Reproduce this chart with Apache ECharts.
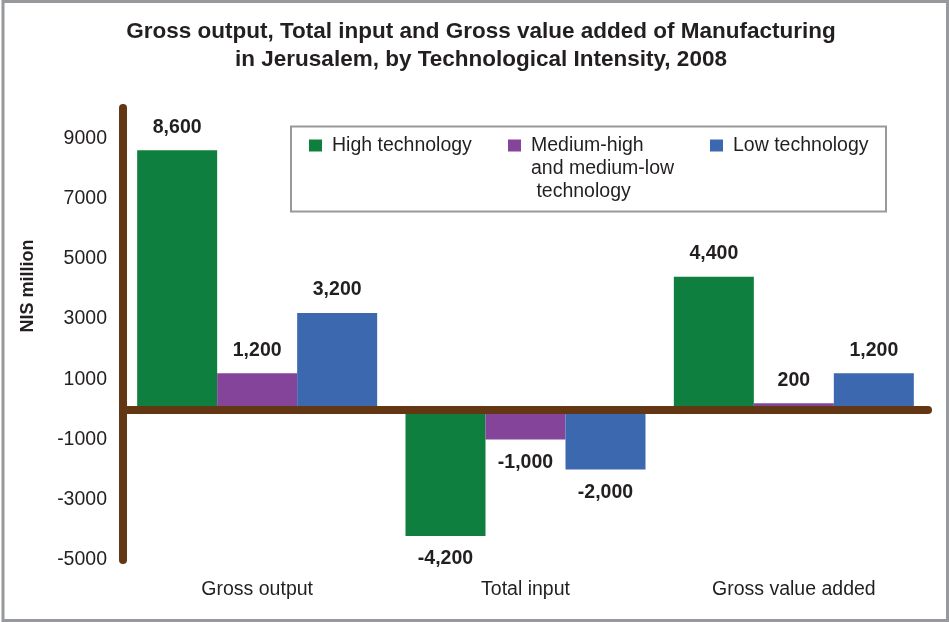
<!DOCTYPE html>
<html>
<head>
<meta charset="utf-8">
<script src="https://cdn.jsdelivr.net/npm/echarts@6/dist/echarts.min.js"></script>
<style>
  html, body { margin: 0; padding: 0; background: #ffffff; }
  #chart { width: 949px; height: 622px; }
</style>
</head>
<body>
<div id="chart"></div>
<script>
// Manufacturing in Jerusalem, 2008 (NIS million)
var categories = ['Gross output', 'Total input', 'Gross value added'];
var seriesNames = ['High technology', 'Medium-high\nand medium-low\n technology', 'Low technology'];
var highTech = [8600, -4200, 4400];
var mediumTech = [1200, -1000, 200];
var lowTech = [3200, -2000, 1200];
var yMin = -5000, yMax = 10000, yStep = 1000;

var colors = ['#0e7f3e', '#84449a', '#3c68b0'];
var ink = '#231f20';
var brown = '#633614';
var fontFamily = 'Liberation Sans, Arial, sans-serif';

function fmt(v) {
  return v.toLocaleString('en-US');
}

// Labels sit above positive bars and below negative ones
function toData(values) {
  return values.map(function (v) {
    return { value: v, label: { position: v < 0 ? 'bottom' : 'top' } };
  });
}

function barSeries(name, values) {
  return {
    name: name,
    type: 'bar',
    xAxisIndex: 0,
    barWidth: 80,
    barGap: '0%',
    data: toData(values),
    label: {
      show: true,
      distance: 13,
      color: ink,
      fontFamily: fontFamily,
      fontWeight: 'bold',
      fontSize: 19.5,
      formatter: function (p) { return fmt(p.value); }
    }
  };
}

// Legend swatch: a 13x12 square; for a multi-line entry the icon box is
// stretched downwards (empty move-to) so that the text, which is centred on
// the icon box, starts with its first line beside the square
var LINE_H = 23;
function swatch(lines) {
  var h = 12 + (lines - 1) * LINE_H;
  return {
    icon: lines > 1 ? 'path://M0,0H13V12H0Z M0,' + h : 'rect',
    height: h
  };
}

// One legend per series so each entry can be placed on its own
function legendAt(left, top, name) {
  var lines = name.split('\n').length;
  var sw = swatch(lines);
  return {
    left: left,
    top: top,
    padding: 0,
    itemWidth: 13,
    itemHeight: sw.height,
    symbolKeepAspect: false,
    selectedMode: false,
    data: [{ name: name, icon: sw.icon }],
    textStyle: {
      color: ink,
      fontFamily: fontFamily,
      fontSize: 19.5,
      lineHeight: LINE_H,
      padding: [0, 0, 0, 5]
    }
  };
}

var chart = echarts.init(document.getElementById('chart'), null, { renderer: 'canvas' });

chart.setOption({
  animation: false,
  color: colors,
  title: {
    text: 'Gross output, Total input and Gross value added of Manufacturing\nin Jerusalem, by Technological Intensity, 2008',
    left: 481,
    textAlign: 'center',
    top: 18,
    padding: 0,
    textStyle: {
      color: ink,
      fontFamily: fontFamily,
      fontWeight: 'bold',
      fontSize: 22.5,
      lineHeight: 28
    }
  },
  legend: [
    legendAt(309, 134, seriesNames[0]),
    legendAt(508, 134, seriesNames[1]),
    legendAt(710, 134, seriesNames[2])
  ],
  graphic: [
    {
      type: 'rect',
      z: -1,
      shape: { x: 3, y: 1.5, width: 944.5, height: 619 },
      style: { fill: null, stroke: '#98999c', lineWidth: 3 }
    },
    {
      type: 'rect',
      z: -1,
      shape: { x: 291, y: 126.5, width: 595, height: 85 },
      style: { fill: '#ffffff', stroke: '#98999c', lineWidth: 2 }
    }
  ],
  grid: { left: 123, right: 21, top: 108, bottom: 62, containLabel: false },
  xAxis: [
    {
      type: 'category',
      data: categories,
      position: 'bottom',
      axisLine: { show: false, onZero: false },
      axisTick: { show: false },
      axisLabel: {
        margin: 20,
        color: ink,
        fontFamily: fontFamily,
        fontSize: 19.5
      }
    },
    {
      type: 'category',
      data: categories,
      z: 5,
      axisLine: {
        show: true,
        onZero: true,
        lineStyle: { color: brown, width: 8, cap: 'round' }
      },
      axisTick: { show: false },
      axisLabel: { show: false }
    }
  ],
  yAxis: {
    type: 'value',
    min: yMin,
    max: yMax,
    interval: yStep,
    name: 'NIS million',
    nameLocation: 'middle',
    nameGap: 86,
    nameTextStyle: {
      color: ink,
      fontFamily: fontFamily,
      fontWeight: 'bold',
      fontSize: 18,
      padding: [0, 0, 0, 96]
    },
    z: 5,
    axisLine: { show: true, lineStyle: { color: brown, width: 8, cap: 'round' } },
    axisTick: { show: false },
    splitLine: { show: false },
    axisLabel: {
      margin: 16,
      color: ink,
      fontFamily: fontFamily,
      fontSize: 19.5,
      formatter: function (v) {
        return (Math.round(v / 1000) % 2 !== 0) ? String(v) : '';
      }
    }
  },
  series: [
    barSeries(seriesNames[0], highTech),
    barSeries(seriesNames[1], mediumTech),
    barSeries(seriesNames[2], lowTech)
  ]
});
</script>
</body>
</html>
